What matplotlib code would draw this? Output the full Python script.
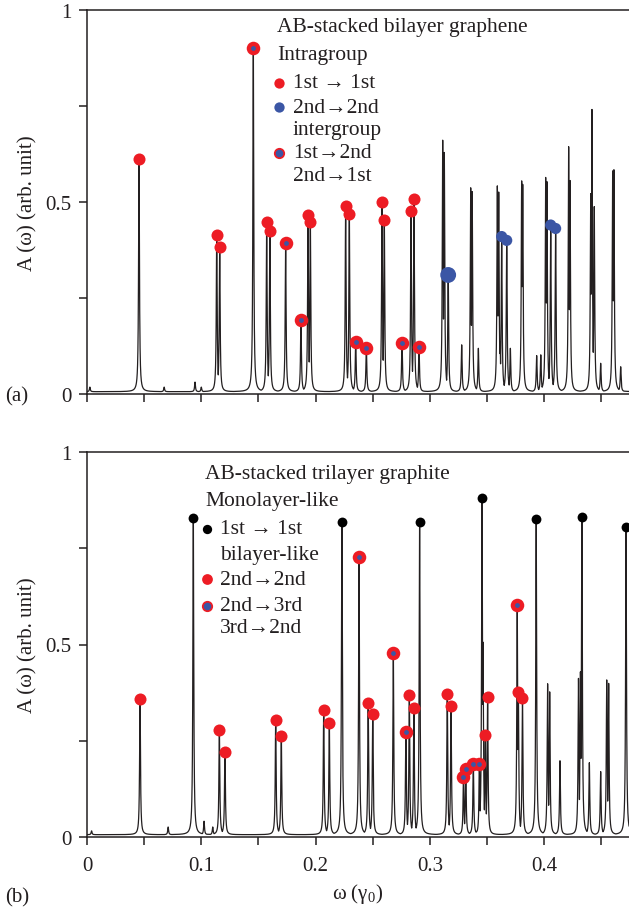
import numpy as np
import matplotlib.pyplot as plt

plt.rcParams['font.family'] = ['Liberation Serif', 'DejaVu Serif']
plt.rcParams['mathtext.fontset'] = 'custom'
plt.rcParams['mathtext.rm'] = 'Liberation Serif'
plt.rcParams['mathtext.it'] = 'Liberation Serif:italic'

RED = '#ed1c24'
BLUE = '#3b56a5'
INK = '#231f20'
LEG = 15.5  # legend font size

# ---- panel (a): AB-stacked bilayer graphene, peak positions (gamma0) / heights
a_red_w = [0.0455, 0.1135, 0.1161, 0.1572, 0.1600, 0.1934, 0.1954,
           0.2263, 0.2295, 0.2581, 0.2601, 0.2835, 0.2861]
a_red_h = [0.612, 0.415, 0.384, 0.449, 0.424, 0.467, 0.447,
           0.489, 0.469, 0.500, 0.454, 0.477, 0.508]
a_blue_w = [0.3160, 0.3628, 0.3672, 0.4057, 0.4100]
a_blue_h = [0.310, 0.410, 0.400, 0.440, 0.431]
a_mix_w = [0.1455, 0.1738, 0.1872, 0.2351, 0.2444, 0.2756, 0.2905]
a_mix_h = [0.901, 0.392, 0.194, 0.135, 0.120, 0.133, 0.123]
a_other_w = [0.0025, 0.0675, 0.0945, 0.1000, 0.3112, 0.3126, 0.3278, 0.3357,
             0.3370, 0.3424, 0.3590, 0.3602, 0.3614, 0.3704, 0.3803, 0.3812,
             0.3934, 0.3970, 0.4013, 0.4024, 0.4214, 0.4226, 0.4407, 0.4418,
             0.4438, 0.4494, 0.4599, 0.4610, 0.4669]
a_other_h = [0.012, 0.012, 0.025, 0.012, 0.655, 0.623, 0.122, 0.531,
             0.521, 0.113, 0.536, 0.520, 0.130, 0.113, 0.549, 0.540,
             0.094, 0.096, 0.558, 0.547, 0.638, 0.550, 0.516, 0.735,
             0.482, 0.074, 0.575, 0.578, 0.065]

# ---- panel (b): AB-stacked trilayer graphite
b_black_w = [0.0930, 0.2230, 0.2910, 0.3456, 0.3930, 0.4330, 0.4716]
b_black_h = [0.829, 0.818, 0.818, 0.880, 0.826, 0.831, 0.805]
b_red_w = [0.0464, 0.1158, 0.1207, 0.1651, 0.1700, 0.2071, 0.2120,
           0.2460, 0.2500, 0.2820, 0.2860, 0.3152, 0.3185, 0.3485,
           0.3505, 0.3774, 0.3810]
b_red_h = [0.358, 0.278, 0.222, 0.305, 0.262, 0.331, 0.296,
           0.348, 0.320, 0.369, 0.335, 0.371, 0.341, 0.265,
           0.364, 0.376, 0.360]
b_mix_w = [0.2380, 0.2680, 0.2790, 0.3294, 0.3314, 0.3380, 0.3433, 0.3764]
b_mix_h = [0.727, 0.478, 0.273, 0.155, 0.177, 0.190, 0.190, 0.603]
b_other_w = [0.0040, 0.0710, 0.1024, 0.1100, 0.3465, 0.3934, 0.4030, 0.4048,
             0.4138, 0.4300, 0.4317, 0.4395, 0.4494, 0.4547, 0.4564]
b_other_h = [0.010, 0.020, 0.035, 0.020, 0.500, 0.236, 0.392, 0.371,
             0.192, 0.406, 0.423, 0.187, 0.164, 0.402, 0.393]

GAMMA = 0.00045


def spectrum(w, pos, hgt):
    pos = np.asarray(pos)[:, None]
    hgt = np.asarray(hgt)[:, None]
    lor = hgt * GAMMA ** 2 / ((w[None, :] - pos) ** 2 + GAMMA ** 2)
    return lor.max(axis=0) + 0.006


def setup(ax, xlabels):
    ax.set_xlim(0, 0.4742)
    ax.set_ylim(0, 1)
    ax.spines['right'].set_visible(False)
    for s in ax.spines.values():
        s.set_linewidth(1.1)
        s.set_color(INK)
    ax.set_xticks([0, 0.1, 0.2, 0.3, 0.4])
    ax.set_xticks([0.05, 0.15, 0.25, 0.35, 0.45], minor=True)
    ax.set_yticks([0, 0.5, 1])
    ax.set_yticks([0.25, 0.75], minor=True)
    ax.set_yticklabels(['0', '0.5', '1'])
    if xlabels:
        ax.set_xticklabels(['0', '0.1', '0.2', '0.3', '0.4'])
    else:
        ax.set_xticklabels([])
    ax.tick_params(which='both', direction='out', length=6, width=1.1,
                   color=INK, labelsize=15, labelcolor=INK, pad=5)
    ax.tick_params(axis='x', which='both', pad=8)
    ax.set_ylabel('A (ω) (arb. unit)', fontsize=15, color=INK, labelpad=6)


def draw_mix(ax, w, h, s_out=95, s_in=12):
    ax.scatter(w, h, s=s_out, color=RED, zorder=4, linewidths=0)
    ax.scatter(w, h, s=s_in, color=BLUE, zorder=5, linewidths=0)


def legend_text(ax, x, y, txt):
    ax.text(x, y, txt, transform=ax.transAxes, fontsize=LEG, color=INK,
            va='center')


def legend_dot(ax, x, y, color, s):
    ax.scatter([x], [y], s=s, color=color, transform=ax.transAxes,
               linewidths=0, clip_on=False, zorder=6)


fig = plt.figure(figsize=(6.29, 9.12), dpi=100)
axa = fig.add_axes([87 / 629, 1 - 395 / 912, 542 / 629, 384 / 912])
axb = fig.add_axes([87 / 629, 1 - 838 / 912, 542 / 629, 385 / 912])

# (a)
pos_a = a_red_w + a_blue_w + a_mix_w + a_other_w
hgt_a = a_red_h + a_blue_h + a_mix_h + a_other_h
wa = np.union1d(np.linspace(0, 0.48, 12000), pos_a)
axa.plot(wa, spectrum(wa, pos_a, hgt_a), color=INK, lw=0.9, zorder=2)
axa.scatter(a_red_w, a_red_h, s=75, color=RED, zorder=4, linewidths=0)
axa.scatter(a_blue_w, a_blue_h, s=[130, 65, 65, 65, 65], color=BLUE,
            zorder=4, linewidths=0)
draw_mix(axa, a_mix_w, a_mix_h)
setup(axa, False)

legend_text(axa, 0.351, 0.958, 'AB-stacked bilayer graphene')
legend_text(axa, 0.351, 0.885, 'Intragroup')
legend_dot(axa, 0.354, 0.81, RED, 55)
legend_text(axa, 0.380, 0.81, '1st → 1st')
legend_dot(axa, 0.354, 0.747, BLUE, 55)
legend_text(axa, 0.380, 0.747, '2nd→2nd')
legend_text(axa, 0.380, 0.690, 'intergroup')
legend_dot(axa, 0.354, 0.628, RED, 65)
legend_dot(axa, 0.354, 0.628, BLUE, 30)
legend_text(axa, 0.380, 0.628, '1st→2nd')
legend_text(axa, 0.380, 0.568, '2nd→1st')

# (b)
pos_b = b_black_w + b_red_w + b_mix_w + b_other_w
hgt_b = b_black_h + b_red_h + b_mix_h + b_other_h
wb = np.union1d(np.linspace(0, 0.48, 12000), pos_b)
axb.plot(wb, spectrum(wb, pos_b, hgt_b), color=INK, lw=0.9, zorder=2)
axb.scatter(b_black_w, b_black_h, s=50, color='black', zorder=4,
            linewidths=0, clip_on=False)
axb.scatter(b_red_w, b_red_h, s=75, color=RED, zorder=4, linewidths=0)
draw_mix(axb, b_mix_w, b_mix_h)
setup(axb, True)
axb.set_xlabel('ω (γ$_\\mathrm{0}$)', fontsize=15, color=INK, labelpad=4)

legend_text(axb, 0.218, 0.943, 'AB-stacked trilayer graphite')
legend_text(axb, 0.218, 0.873, 'Monolayer-like')
legend_dot(axb, 0.221, 0.80, 'black', 45)
legend_text(axb, 0.2454, 0.80, '1st → 1st')
legend_text(axb, 0.2454, 0.735, 'bilayer-like')
legend_dot(axb, 0.221, 0.67, RED, 60)
legend_text(axb, 0.2454, 0.67, '2nd→2nd')
legend_dot(axb, 0.221, 0.60, RED, 65)
legend_dot(axb, 0.221, 0.60, BLUE, 30)
legend_text(axb, 0.2454, 0.60, '2nd→3rd')
legend_text(axb, 0.2454, 0.543, '3rd→2nd')

fig.text(5 / 629, 1 - 397 / 912, '(a)', fontsize=15, color=INK, va='center')
fig.text(5 / 629, 1 - 898 / 912, '(b)', fontsize=15, color=INK, va='center')

fig.savefig('out.png', dpi=100)
